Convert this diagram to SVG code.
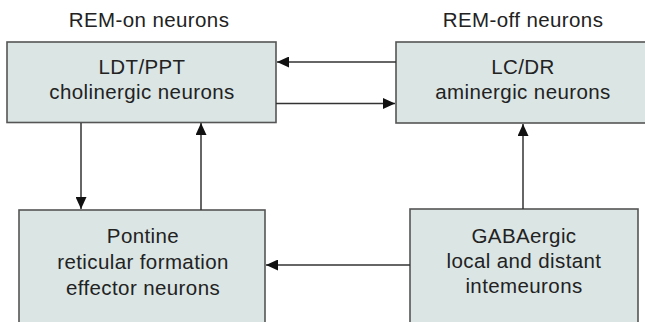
<svg xmlns="http://www.w3.org/2000/svg" width="645" height="322" viewBox="0 0 645 322">
<style>
.box{fill:#dae5e4;stroke:#555;stroke-width:1.6}
.t{font-family:"Liberation Sans",Arial,sans-serif;font-size:20.5px;letter-spacing:0.4px;fill:#222;text-anchor:middle}
.c{stroke:#333;stroke-width:1.5;fill:none;marker-end:url(#ah)}
</style>
<defs>
<marker id="ah" viewBox="0 0 12 11" refX="12" refY="5.5" markerWidth="12" markerHeight="11" markerUnits="userSpaceOnUse" orient="auto">
<path d="M0,0 L12,5.5 L0,11 Z" fill="#111"/>
</marker>
</defs>
<text class="t" x="149" y="27">REM-on neurons</text>
<text class="t" x="523" y="27">REM-off neurons</text>
<g id="ldt">
<rect class="box" x="7" y="42" width="269" height="80.5"/>
<text class="t" x="142" y="74">LDT/PPT</text>
<text class="t" x="142" y="99">cholinergic neurons</text>
</g>
<g id="lc">
<rect class="box" x="396" y="42" width="252" height="81"/>
<text class="t" x="523" y="74">LC/DR</text>
<text class="t" x="523" y="99">aminergic neurons</text>
</g>
<g id="pontine">
<rect class="box" x="19" y="210" width="246" height="116"/>
<text class="t" x="143" y="243">Pontine</text>
<text class="t" x="143" y="269">reticular formation</text>
<text class="t" x="143" y="295">effector neurons</text>
</g>
<g id="gaba">
<rect class="box" x="410" y="209" width="228" height="117"/>
<text class="t" x="524" y="243">GABAergic</text>
<text class="t" x="524" y="268">local and distant</text>
<text class="t" x="524" y="293">intemeurons</text>
</g>
<g id="connectors">
<line class="c" x1="396" y1="62" x2="277" y2="62"/>
<line class="c" x1="276" y1="103.5" x2="395" y2="103.5"/>
<line class="c" x1="81" y1="123" x2="81" y2="209"/>
<line class="c" x1="201" y1="210" x2="201" y2="123"/>
<line class="c" x1="523" y1="209" x2="523" y2="124"/>
<line class="c" x1="410" y1="265" x2="266" y2="265"/>
</g>
</svg>
